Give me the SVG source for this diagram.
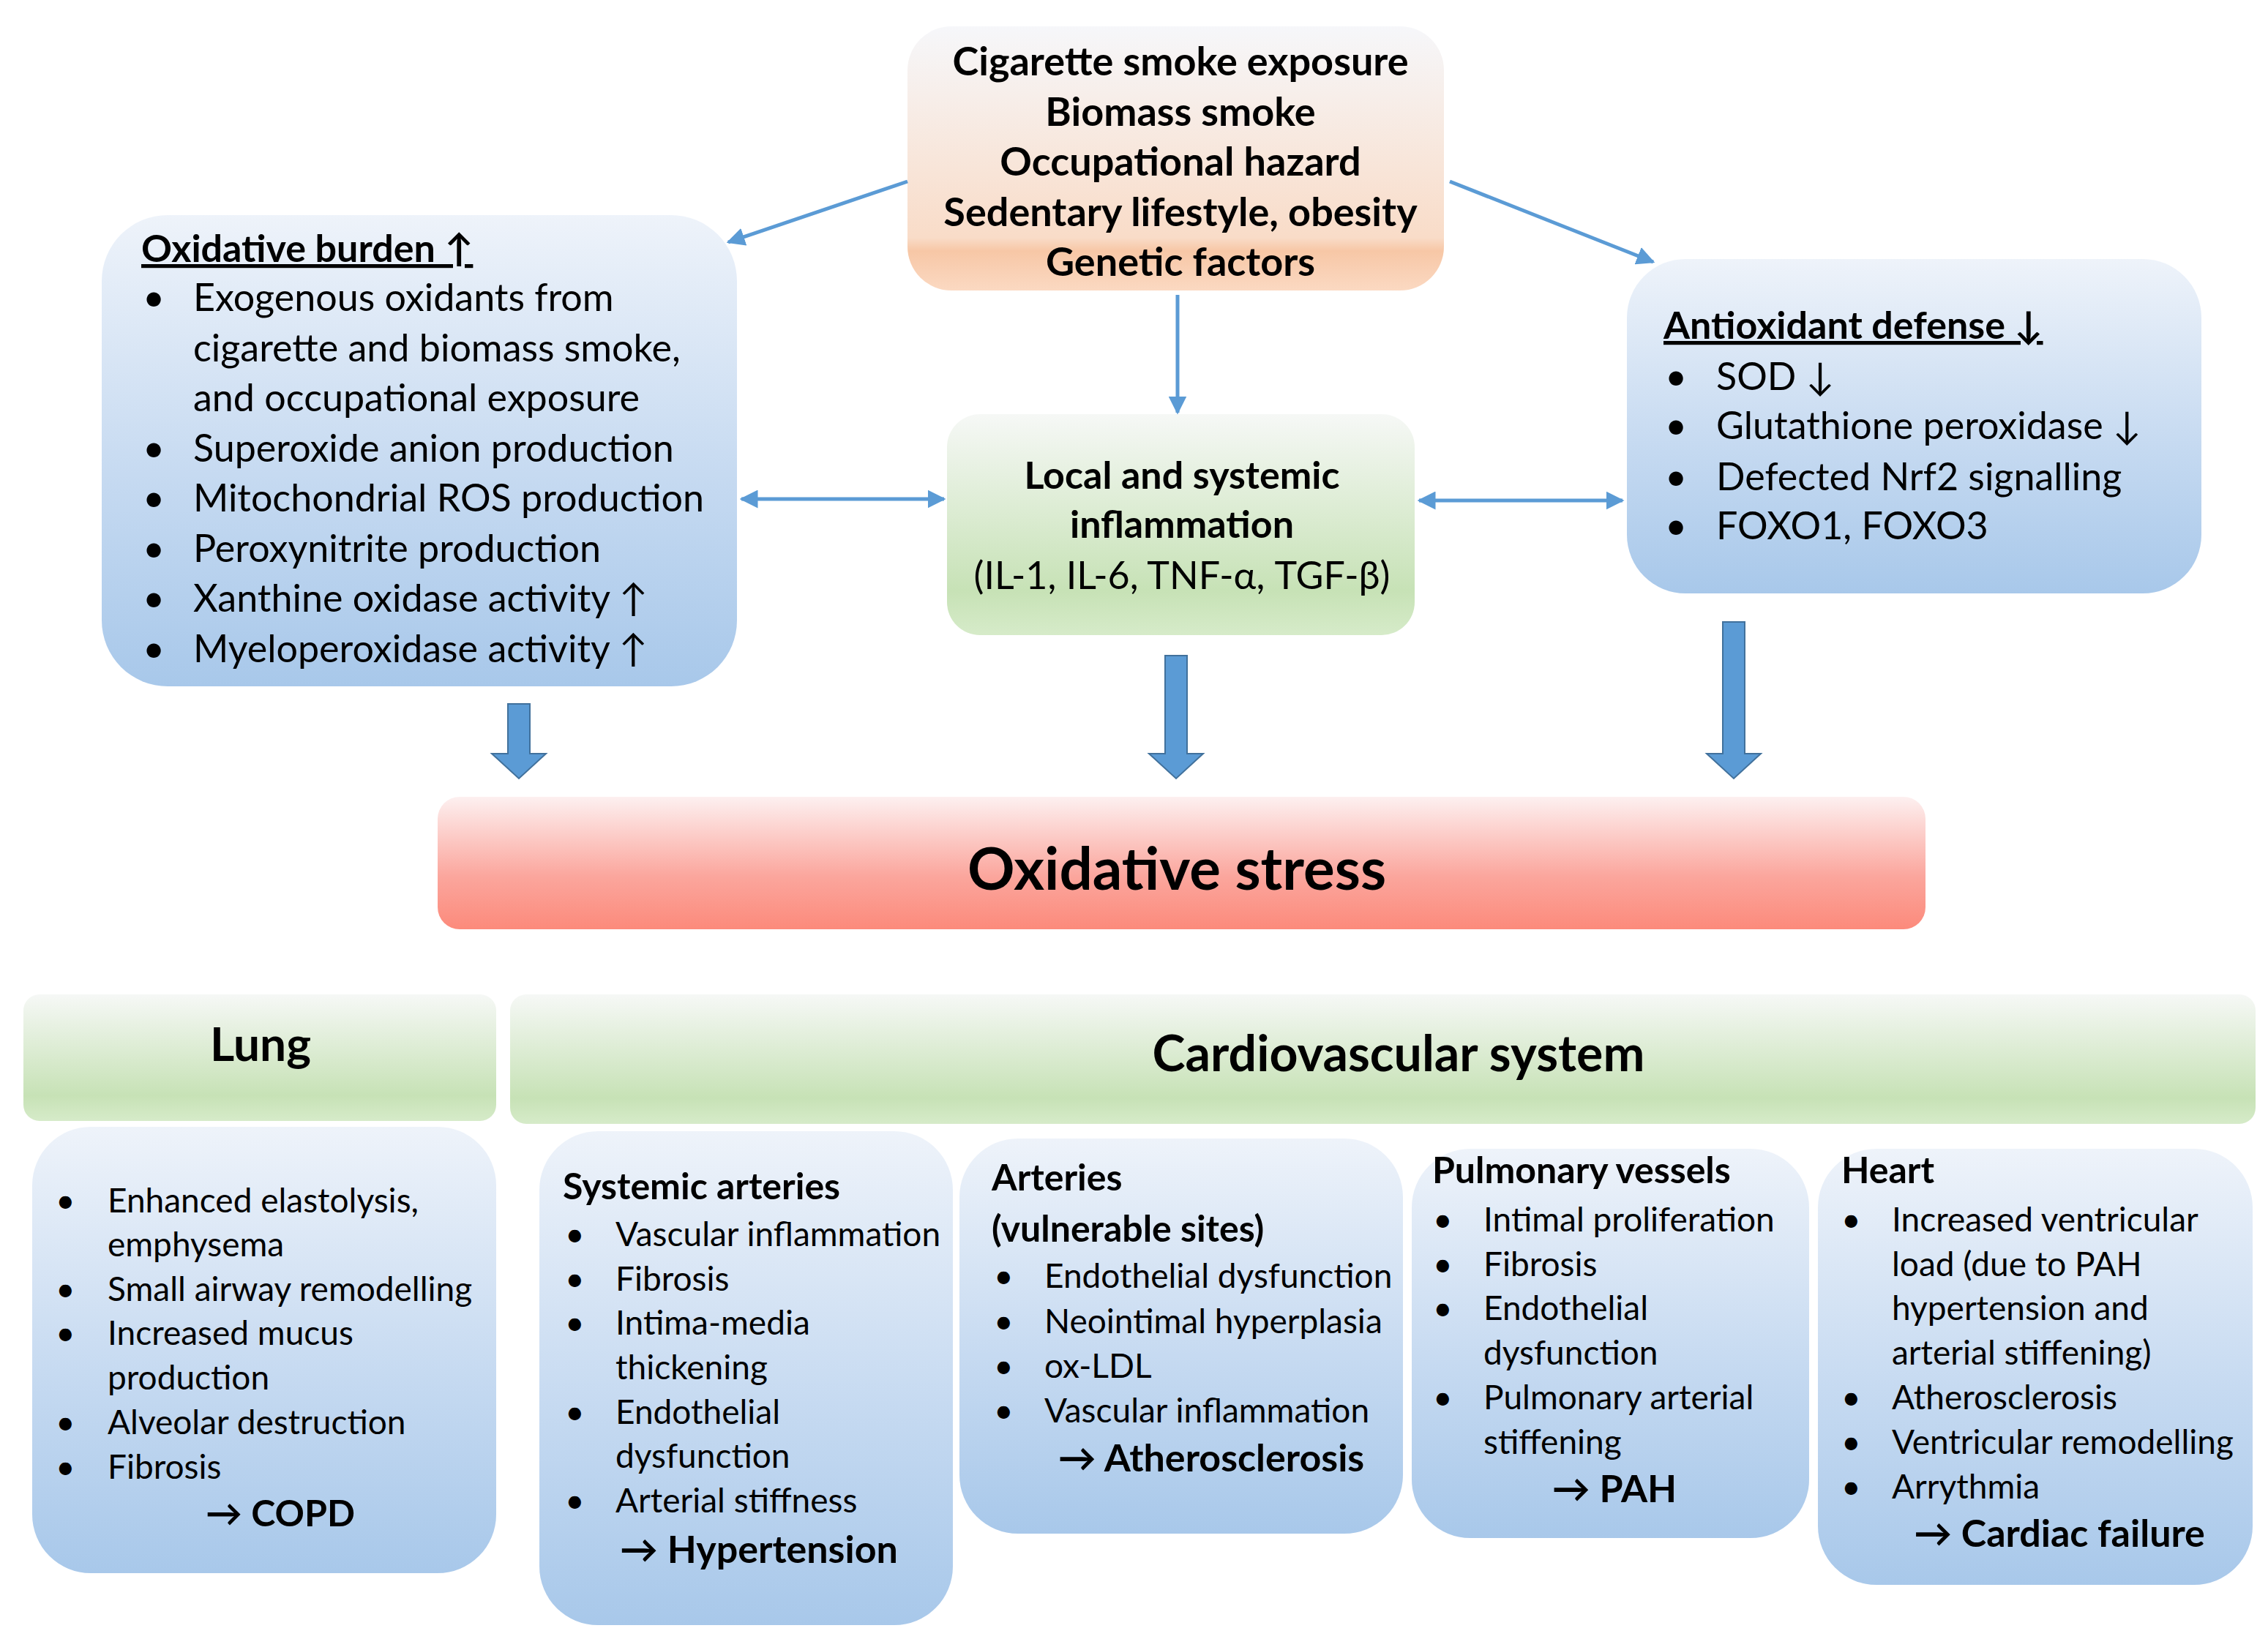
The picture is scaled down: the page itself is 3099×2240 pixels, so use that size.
<svg xmlns="http://www.w3.org/2000/svg" width="3099" height="2240" viewBox="0 0 3099 2240">
<defs>
<linearGradient id="gBlue" x1="0" y1="0" x2="0" y2="1"><stop offset="0" stop-color="#eef3fa"/><stop offset="0.55" stop-color="#c6daf1"/><stop offset="1" stop-color="#a8c8ea"/></linearGradient>
<linearGradient id="gGreen" x1="0" y1="0" x2="0" y2="1"><stop offset="0" stop-color="#f6f8f6"/><stop offset="0.8" stop-color="#c7e2b6"/><stop offset="1" stop-color="#d6ebc9"/></linearGradient>
<linearGradient id="gOrange" x1="0" y1="0" x2="0" y2="1"><stop offset="0" stop-color="#f6f7fa"/><stop offset="0.8" stop-color="#f9dcc8"/><stop offset="0.85" stop-color="#f7c7a6"/><stop offset="1" stop-color="#fbd9c2"/></linearGradient>
<linearGradient id="gRed" x1="0" y1="0" x2="0" y2="1"><stop offset="0" stop-color="#fdf0f0"/><stop offset="0.6" stop-color="#fba69d"/><stop offset="1" stop-color="#fc8a7b"/></linearGradient>
<marker id="ah" viewBox="0 0 10 10" refX="9" refY="5" markerWidth="5" markerHeight="5" orient="auto-start-reverse"><path d="M0,0 L10,5 L0,10 z" fill="#5b9bd5"/></marker>
</defs>
<style>
text{font-family:Lato,"Open Sans","Liberation Sans",sans-serif;fill:#000}
.b{font-weight:bold}
.big{font-size:52px}
.top{font-size:54px}
.s{font-size:46px}
.c{text-anchor:middle}
.u{text-decoration:underline}
.conn{stroke:#5b9bd5;stroke-width:5;fill:none}
.blk{fill:#5b9bd5;stroke:#41719c;stroke-width:2}
</style>
<rect width="3099" height="2240" fill="#fff"/>

<g id="sources">
<rect x="1240" y="36" width="733" height="361" rx="60" fill="url(#gOrange)"/>
<text class="b top c" x="1613" y="103">Cigarette smoke exposure</text>
<text class="b top c" x="1613" y="172">Biomass smoke</text>
<text class="b top c" x="1613" y="240">Occupational hazard</text>
<text class="b top c" x="1613" y="309">Sedentary lifestyle, obesity</text>
<text class="b top c" x="1613" y="377">Genetic factors</text>
</g>

<g id="oxidative-burden">
<rect x="139" y="294" width="868" height="644" rx="90" fill="url(#gBlue)"/>
<text class="b big u" x="193" y="358">Oxidative burden ↑</text>
<g class="big">
<text x="195" y="425">•</text><text x="264" y="425">Exogenous oxidants from</text>
<text x="264" y="494">cigarette and biomass smoke,</text>
<text x="264" y="562">and occupational exposure</text>
<text x="195" y="631">•</text><text x="264" y="631">Superoxide anion production</text>
<text x="195" y="699">•</text><text x="264" y="699">Mitochondrial ROS production</text>
<text x="195" y="768">•</text><text x="264" y="768">Peroxynitrite production</text>
<text x="195" y="836">•</text><text x="264" y="836">Xanthine oxidase activity ↑</text>
<text x="195" y="905">•</text><text x="264" y="905">Myeloperoxidase activity ↑</text>
</g>
</g>

<g id="inflammation">
<rect x="1294" y="566" width="639" height="302" rx="45" fill="url(#gGreen)"/>
<text class="b big c" x="1615" y="668">Local and systemic</text>
<text class="b big c" x="1615" y="735">inflammation</text>
<text class="big c" x="1615" y="805">(IL-1, IL-6, TNF-α, TGF-β)</text>
</g>

<g id="antioxidant">
<rect x="2223" y="354" width="785" height="457" rx="80" fill="url(#gBlue)"/>
<text class="b big u" x="2273" y="463">Antioxidant defense ↓</text>
<g class="big">
<text x="2275" y="533">•</text><text x="2345" y="533">SOD ↓</text>
<text x="2275" y="600">•</text><text x="2345" y="600">Glutathione peroxidase ↓</text>
<text x="2275" y="670">•</text><text x="2345" y="670">Defected Nrf2 signalling</text>
<text x="2275" y="737">•</text><text x="2345" y="737">FOXO1, FOXO3</text>
</g>
</g>

<g id="oxidative-stress">
<rect x="598" y="1089" width="2033" height="181" rx="30" fill="url(#gRed)"/>
<text class="b c" style="font-size:80px" x="1608" y="1216">Oxidative stress</text>
</g>

<g id="lung-header">
<rect x="32" y="1359" width="646" height="173" rx="22" fill="url(#gGreen)"/>
<text class="b c" style="font-size:64px" x="356" y="1450">Lung</text>
</g>
<g id="cv-header">
<rect x="697" y="1359" width="2385" height="177" rx="22" fill="url(#gGreen)"/>
<text class="b c" style="font-size:68px" x="1911" y="1464">Cardiovascular system</text>
</g>

<g id="lung" class="s">
<rect x="44" y="1540" width="634" height="610" rx="80" fill="url(#gBlue)"/>
<text x="76" y="1657">•</text><text x="147" y="1657">Enhanced elastolysis,</text>
<text x="147" y="1717">emphysema</text>
<text x="76" y="1778">•</text><text x="147" y="1778">Small airway remodelling</text>
<text x="76" y="1838">•</text><text x="147" y="1838">Increased mucus</text>
<text x="147" y="1899">production</text>
<text x="76" y="1960">•</text><text x="147" y="1960">Alveolar destruction</text>
<text x="76" y="2021">•</text><text x="147" y="2021">Fibrosis</text>
<text class="b c" style="font-size:50px" x="383" y="2086">→ COPD</text>
</g>

<g id="systemic-arteries" class="s">
<rect x="737" y="1546" width="565" height="675" rx="80" fill="url(#gBlue)"/>
<text class="b" style="font-size:50px" x="769" y="1639">Systemic arteries</text>
<text x="772" y="1703">•</text><text x="841" y="1703">Vascular inflammation</text>
<text x="772" y="1764">•</text><text x="841" y="1764">Fibrosis</text>
<text x="772" y="1824">•</text><text x="841" y="1824">Intima-media</text>
<text x="841" y="1885">thickening</text>
<text x="772" y="1946">•</text><text x="841" y="1946">Endothelial</text>
<text x="841" y="2006">dysfunction</text>
<text x="772" y="2067">•</text><text x="841" y="2067">Arterial stiffness</text>
<text class="b c" style="font-size:52px" x="1037" y="2136">→ Hypertension</text>
</g>

<g id="arteries" class="s">
<rect x="1311" y="1556" width="606" height="540" rx="80" fill="url(#gBlue)"/>
<text class="b" style="font-size:50px" x="1355" y="1627">Arteries</text>
<text class="b" style="font-size:50px" x="1355" y="1697">(vulnerable sites)</text>
<text x="1358" y="1760">•</text><text x="1427" y="1760">Endothelial dysfunction</text>
<text x="1358" y="1822">•</text><text x="1427" y="1822">Neointimal hyperplasia</text>
<text x="1358" y="1883">•</text><text x="1427" y="1883">ox-LDL</text>
<text x="1358" y="1944">•</text><text x="1427" y="1944">Vascular inflammation</text>
<text class="b c" style="font-size:52px" x="1655" y="2011">→ Atherosclerosis</text>
</g>

<g id="pulmonary-vessels" class="s">
<rect x="1929" y="1570" width="543" height="532" rx="80" fill="url(#gBlue)"/>
<text class="b" style="font-size:50px" x="1957" y="1617">Pulmonary vessels</text>
<text x="1958" y="1683">•</text><text x="2027" y="1683">Intimal proliferation</text>
<text x="1958" y="1744">•</text><text x="2027" y="1744">Fibrosis</text>
<text x="1958" y="1804">•</text><text x="2027" y="1804">Endothelial</text>
<text x="2027" y="1865">dysfunction</text>
<text x="1958" y="1926">•</text><text x="2027" y="1926">Pulmonary arterial</text>
<text x="2027" y="1987">stiffening</text>
<text class="b c" style="font-size:52px" x="2206" y="2053">→ PAH</text>
</g>

<g id="heart" class="s">
<rect x="2484" y="1570" width="594" height="596" rx="80" fill="url(#gBlue)"/>
<text class="b" style="font-size:50px" x="2516" y="1617">Heart</text>
<text x="2516" y="1683">•</text><text x="2585" y="1683">Increased ventricular</text>
<text x="2585" y="1744">load (due to PAH</text>
<text x="2585" y="1804">hypertension and</text>
<text x="2585" y="1865">arterial stiffening)</text>
<text x="2516" y="1926">•</text><text x="2585" y="1926">Atherosclerosis</text>
<text x="2516" y="1987">•</text><text x="2585" y="1987">Ventricular remodelling</text>
<text x="2516" y="2048">•</text><text x="2585" y="2048">Arrythmia</text>
<text class="b c" style="font-size:52px" x="2814" y="2114">→ Cardiac failure</text>
</g>

<g id="connectors">
<line class="conn" x1="1240" y1="248" x2="995" y2="331" marker-end="url(#ah)"/>
<line class="conn" x1="1981" y1="248" x2="2259" y2="358" marker-end="url(#ah)"/>
<line class="conn" x1="1609" y1="403" x2="1609" y2="564" marker-end="url(#ah)"/>
<line class="conn" x1="1013" y1="682" x2="1290" y2="682" marker-start="url(#ah)" marker-end="url(#ah)"/>
<line class="conn" x1="1939" y1="684" x2="2217" y2="684" marker-start="url(#ah)" marker-end="url(#ah)"/>
<path class="blk" d="M694,962 h30 v68 h22 l-37,34 l-37,-34 h22 z"/>
<path class="blk" d="M1592,896 h30 v134 h22 l-37,34 l-37,-34 h22 z"/>
<path class="blk" d="M2354,850 h30 v180 h22 l-37,34 l-37,-34 h22 z"/>
</g>
</svg>
